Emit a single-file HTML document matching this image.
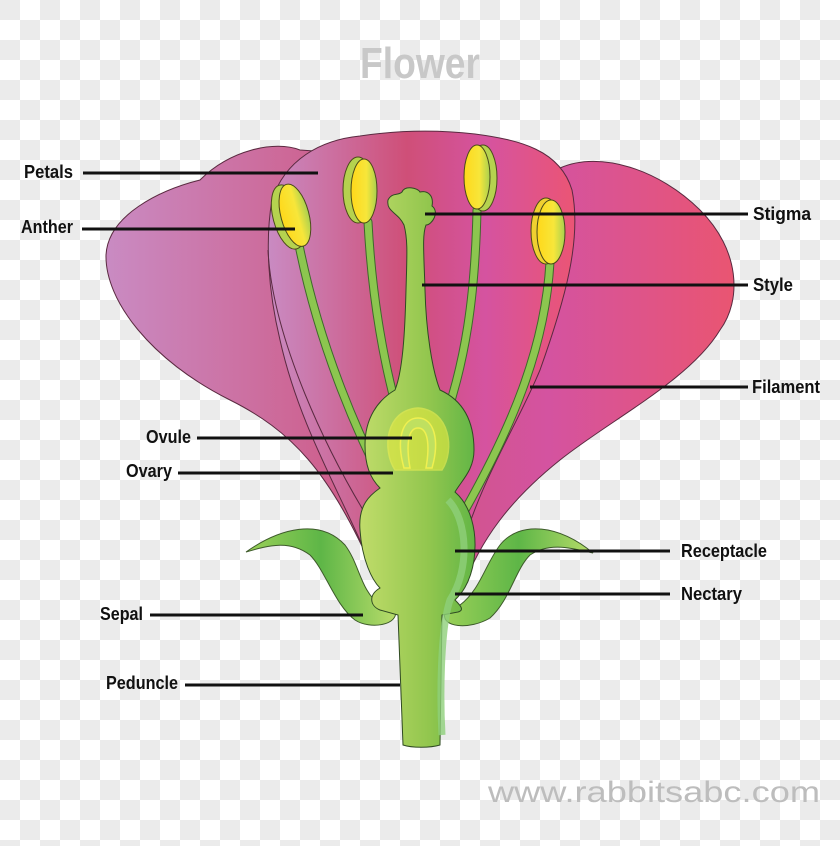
<!DOCTYPE html>
<html><head><meta charset="utf-8"><style>
html,body{margin:0;padding:0}
body{width:840px;height:846px;overflow:hidden;background-color:#fff;
background-image:linear-gradient(45deg,#ebebeb 25%,transparent 25%,transparent 75%,#ebebeb 75%),linear-gradient(45deg,#ebebeb 25%,transparent 25%,transparent 75%,#ebebeb 75%);
background-size:40px 40px;background-position:20px 0,0 20px;}
svg{position:absolute;left:0;top:0}
.l{font-family:"Liberation Sans Narrow","Liberation Sans",sans-serif;font-weight:bold;font-size:18px;fill:#111}
</style></head><body>
<svg width="840" height="846" viewBox="0 0 840 846">
<defs>
<linearGradient id="back" x1="100" x2="740" y1="0" y2="0" gradientUnits="userSpaceOnUse">
<stop offset="0" stop-color="#c98cc4"/><stop offset="0.45" stop-color="#cf5580"/><stop offset="0.7" stop-color="#d453a0"/><stop offset="1" stop-color="#ea5570"/></linearGradient>
<linearGradient id="front" x1="265" x2="580" y1="0" y2="0" gradientUnits="userSpaceOnUse">
<stop offset="0" stop-color="#c98cc4"/><stop offset="0.45" stop-color="#cf4f78"/><stop offset="0.7" stop-color="#d553a0"/><stop offset="1" stop-color="#ec5572"/></linearGradient>
<linearGradient id="gr" x1="0" x2="1" y1="0" y2="0">
<stop offset="0" stop-color="#c0dc6a"/><stop offset="0.6" stop-color="#92c64e"/><stop offset="1" stop-color="#62b646"/></linearGradient>
<linearGradient id="an" x1="0" x2="1" y1="0" y2="0">
<stop offset="0" stop-color="#ffd81a"/><stop offset="0.6" stop-color="#f7e63a"/><stop offset="1" stop-color="#a8d050"/></linearGradient>
<linearGradient id="sep" x1="0" x2="1" y1="0" y2="0">
<stop offset="0" stop-color="#9bd058"/><stop offset="0.5" stop-color="#5eb647"/><stop offset="1" stop-color="#b8dc6a"/></linearGradient>
</defs>
<text x="360" y="78" font-family="Liberation Sans,sans-serif" font-weight="bold" font-size="44" fill="#c8c8c8" textLength="120" lengthAdjust="spacingAndGlyphs">Flower</text>

<!-- back petals -->
<path d="M200,180 C230,150 275,140 300,150 L560,168 C600,150 660,170 700,210 C740,250 742,300 720,330 C690,380 610,420 560,460 C510,500 480,540 462,590 L375,575 C330,470 290,430 230,400 C150,360 105,300 106,255 C108,215 160,190 200,180 Z" fill="url(#back)" stroke="#5a2a40" stroke-width="1"/>
<!-- front petal -->
<path d="M272,200 C285,160 320,140 360,136 C400,130 440,130 475,134 C520,140 560,150 572,190 C582,240 565,300 540,370 C515,430 480,480 458,560 L375,575 C345,500 300,430 280,340 C268,290 265,240 272,200 Z" fill="url(#front)" stroke="#5a2a40" stroke-width="1"/>
<path d="M268,250 C272,330 320,450 395,560" fill="none" stroke="#5a2a40" stroke-width="1"/>

<!-- filaments -->
<g fill="none" stroke="#3d6a2a" stroke-width="9" stroke-linecap="round">
<path d="M299,245 C320,350 360,440 392,500"/><path d="M368,222 C372,300 385,370 400,420"/>
<path d="M477,210 C475,300 465,360 445,420"/><path d="M550,262 C545,350 510,430 465,510"/></g>
<g fill="none" stroke="#8cc64f" stroke-width="7" stroke-linecap="round">
<path d="M299,245 C320,350 360,440 392,500"/><path d="M368,222 C372,300 385,370 400,420"/>
<path d="M477,210 C475,300 465,360 445,420"/><path d="M550,262 C545,350 510,430 465,510"/></g>

<!-- anthers -->
<g stroke="#4a4a1a" stroke-width="1">
<g transform="rotate(-15 292 216)"><ellipse cx="288" cy="216" rx="15" ry="33" fill="#b5d24f"/><ellipse cx="295" cy="216" rx="14" ry="32" fill="url(#an)"/></g>
<ellipse cx="358" cy="190" rx="15" ry="33" fill="#b5d24f"/><ellipse cx="364" cy="191" rx="13" ry="32" fill="url(#an)"/>
<ellipse cx="483" cy="178" rx="14" ry="33" fill="#b5d24f"/><ellipse cx="477" cy="177" rx="13" ry="32" fill="url(#an)"/>
<ellipse cx="546" cy="231" rx="15" ry="33" fill="#f0d030"/><ellipse cx="551" cy="232" rx="14" ry="32" fill="url(#an)"/>
</g>

<!-- sepals -->
<path d="M246,552 C280,528 320,518 345,545 C360,565 360,590 380,605 L395,610 C400,625 370,630 355,620 C335,605 325,570 310,555 C290,540 270,545 246,552 Z" fill="url(#sep)" stroke="#3d5a2a" stroke-width="1"/>
<path d="M593,553 C560,525 520,520 500,545 C485,565 480,590 460,605 L445,612 C440,628 470,630 490,618 C510,600 515,570 530,555 C550,542 570,548 593,553 Z" fill="url(#sep)" stroke="#3d5a2a" stroke-width="1"/>

<!-- pistil -->
<path d="M404,225 C398,212 386,212 388,200 C392,192 398,196 402,192 C405,185 418,188 420,192 C428,190 434,196 432,206 C440,212 432,225 426,225 C422,235 424,255 425,290 C426,330 432,370 440,390 C462,400 474,420 474,450 C474,470 462,480 455,492 C470,505 478,530 474,560 C470,585 460,595 455,600 C460,605 465,610 458,612 L442,615 L440,745 C430,748 412,748 403,745 L398,615 L380,610 C370,606 368,595 380,588 C372,580 362,560 360,530 C358,505 370,495 380,488 C370,478 365,465 365,445 C365,418 378,400 395,390 C403,370 405,330 406,290 C407,255 408,240 404,225 Z" fill="url(#gr)" stroke="#2f4a22" stroke-width="1"/>
<path d="M448,500 C468,520 470,570 450,600 C440,630 440,700 442,735" fill="none" stroke="#8fd07a" stroke-width="7" opacity="0.8"/>
<path d="M395,470 C382,450 385,410 418,408 C450,410 455,450 442,470 Z" fill="#e6ea40" opacity="0.6" stroke="#f0f050" stroke-width="1.5"/>
<path d="M404,468 C396,440 402,418 418,418 C434,418 440,440 432,468 L426,468 C430,445 428,428 418,428 C408,428 406,445 410,468 Z" fill="#bfe060" stroke="#f0f050" stroke-width="1.5"/>

<!-- leader lines -->
<g stroke="#111" stroke-width="3">
<line x1="83" y1="173" x2="318" y2="173"/><line x1="82" y1="229" x2="295" y2="229"/>
<line x1="425" y1="214" x2="748" y2="214"/><line x1="422" y1="285" x2="748" y2="285"/>
<line x1="530" y1="387" x2="748" y2="387"/><line x1="197" y1="438" x2="412" y2="438"/>
<line x1="178" y1="473" x2="393" y2="473"/><line x1="455" y1="551" x2="670" y2="551"/>
<line x1="455" y1="594" x2="670" y2="594"/><line x1="150" y1="615" x2="363" y2="615"/>
<line x1="185" y1="685" x2="400" y2="685"/></g>

<g class="l">
<text x="24" y="178" textLength="49" lengthAdjust="spacingAndGlyphs">Petals</text>
<text x="21" y="233" textLength="52" lengthAdjust="spacingAndGlyphs">Anther</text>
<text x="753" y="220" textLength="58" lengthAdjust="spacingAndGlyphs">Stigma</text>
<text x="753" y="291" textLength="40" lengthAdjust="spacingAndGlyphs">Style</text>
<text x="752" y="393" textLength="68" lengthAdjust="spacingAndGlyphs">Filament</text>
<text x="146" y="443" textLength="45" lengthAdjust="spacingAndGlyphs">Ovule</text>
<text x="126" y="477" textLength="46" lengthAdjust="spacingAndGlyphs">Ovary</text>
<text x="681" y="557" textLength="86" lengthAdjust="spacingAndGlyphs">Receptacle</text>
<text x="681" y="600" textLength="61" lengthAdjust="spacingAndGlyphs">Nectary</text>
<text x="100" y="620" textLength="43" lengthAdjust="spacingAndGlyphs">Sepal</text>
<text x="106" y="689" textLength="72" lengthAdjust="spacingAndGlyphs">Peduncle</text>
</g>
<text x="488" y="802" font-family="Liberation Sans,sans-serif" font-size="30" fill="#bdbdbd" textLength="332" lengthAdjust="spacingAndGlyphs">www.rabbitsabc.com</text>
</svg>
</body></html>
